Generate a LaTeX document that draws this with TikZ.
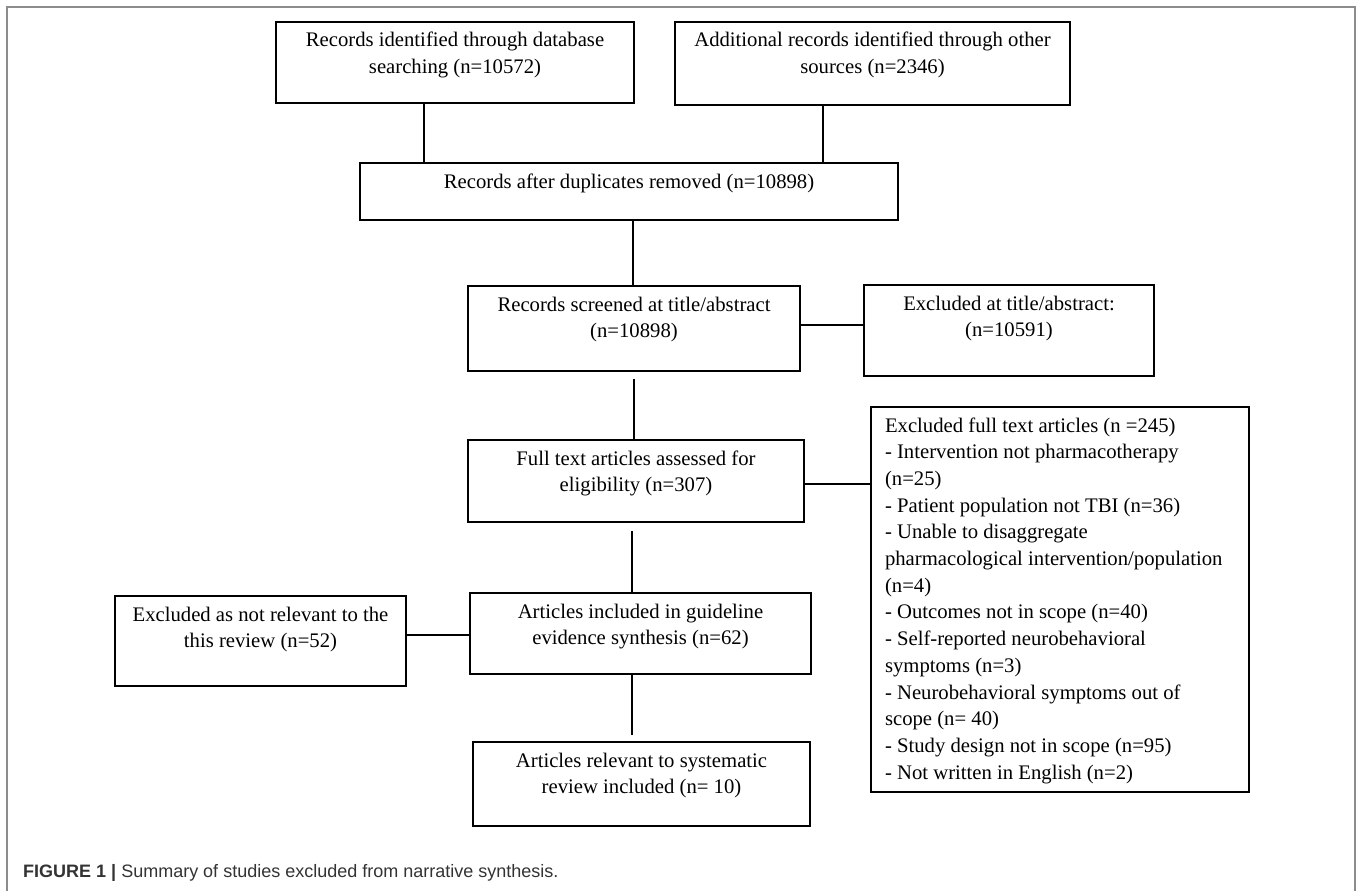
\documentclass[tikz,border=0pt]{standalone}
\usepackage{fontspec}
\setmainfont{Liberation Serif}
\setsansfont{Liberation Sans}

% box contents: width, height, text (set from the top of the box)
\newcommand{\flowtext}[3]{\parbox[c][#2pt][t]{#1pt}{\centering\rule{0pt}{25pt}#3}}
\newcommand{\listtext}[3]{\parbox[c][#2pt][t]{#1pt}{\raggedright\rule{0pt}{25pt}#3}}

\begin{document}
\begin{tikzpicture}[x=1pt, y=-1pt,
  box/.style={draw, line width=2pt, inner sep=0pt, font=\fontsize{20.7}{26.7}\selectfont},
  link/.style={line width=1.6pt},
  frame/.style={draw=black!45, line width=1.4pt}]

  \useasboundingbox (0,0) rectangle (1357,891);

  % Outer frame round the figure
  \draw[frame] (7,891) -- (7,7) -- (1355,7) -- (1355,891);

  % Identification
  \node[box] (db) at (455,62.5) {\flowtext{358}{81}{Records identified through database\\searching (n=10572)}};
  \node[box] (other) at (872.5,63.5) {\flowtext{395}{83}{Additional records identified through other\\sources (n=2346)}};
  \node[box] (dup) at (629,191.5) {\flowtext{538}{57}{Records after duplicates removed (n=10898)}};

  % Screening
  \node[box] (screen) at (634,328.5) {\flowtext{332}{85}{Records screened at title/abstract\\(n=10898)}};
  \node[box] (exclta) at (1009,330.5) {\flowtext{290}{91}{Excluded at title/abstract:\\(n=10591)}};

  % Eligibility
  \node[box] (full) at (636,481) {\flowtext{336}{82}{Full text articles assessed for\\eligibility (n=307)}};
  \node[box, inner xsep=14pt] (exclft) at (1060,599.5) {\listtext{350}{385}{Excluded full text articles (n =245)\\
    - Intervention not pharmacotherapy\\
    (n=25)\\
    - Patient population not TBI (n=36)\\
    - Unable to disaggregate\\
    pharmacological intervention/population\\
    (n=4)\\
    - Outcomes not in scope (n=40)\\
    - Self-reported neurobehavioral\\
    symptoms (n=3)\\
    - Neurobehavioral symptoms out of\\
    scope (n= 40)\\
    - Study design not in scope (n=95)\\
    - Not written in English (n=2)}};

  % Included
  \node[box] (guide) at (640.5,633.5) {\flowtext{341}{81}{Articles included in guideline\\evidence synthesis (n=62)}};
  \node[box] (notrel) at (260.5,641) {\flowtext{291}{90}{Excluded as not relevant to the\\this review (n=52)}};
  \node[box] (review) at (641.5,784) {\flowtext{337}{84}{Articles relevant to systematic\\review included (n= 10)}};

  % Connectors
  \draw[link] (db.south -| 424,0) -- (dup.north -| 424,0);
  \draw[link] (other.south -| 823,0) -- (dup.north -| 823,0);
  \draw[link] (dup.south -| 633,0) -- (screen.north -| 633,0);
  \draw[link] (screen.east |- 0,325) -- (exclta.west |- 0,325);
  \draw[link, shorten <=7pt] (screen.south -| 634,0) -- (full.north -| 634,0);
  \draw[link] (full.east |- 0,484) -- (exclft.west |- 0,484);
  \draw[link, shorten <=8pt] (full.south -| 632,0) -- (guide.north -| 632,0);
  \draw[link] (notrel.east |- 0,635) -- (guide.west |- 0,635);
  \draw[link, shorten >=6pt] (guide.south -| 632,0) -- (review.north -| 632,0);

  % Caption
  \node[anchor=base west, text=black!80, inner sep=0pt, font=\sffamily\fontsize{18}{22}\selectfont] (caption) at (23,877)
    {\textbf{FIGURE 1 |} Summary of studies excluded from narrative synthesis.};

\end{tikzpicture}
\end{document}
